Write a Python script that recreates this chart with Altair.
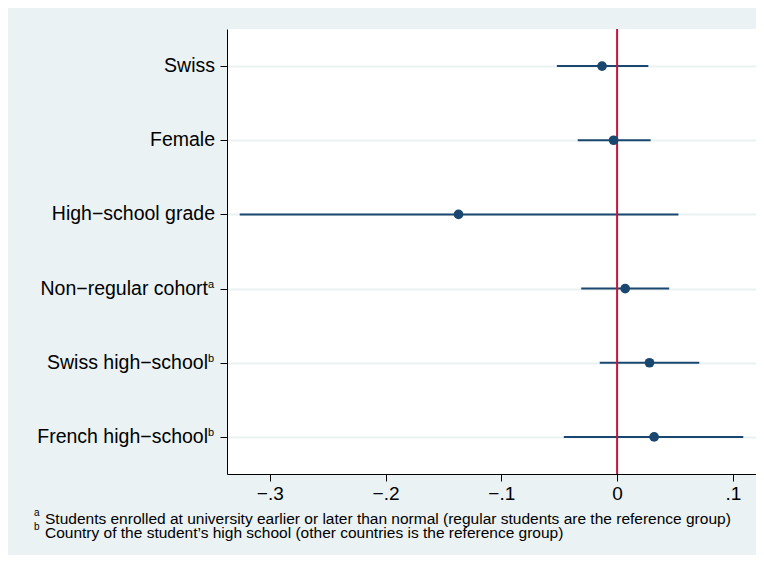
import altair as alt
import pandas as pd

labels = ["Swiss", "Female", "High−school grade", "Non−regular cohort",
          "Swiss high−school", "French high−school"]
label_sup = ["", "", "", "a", "b", "b"]
coef = [-0.013, -0.003, -0.137, 0.007, 0.028, 0.032]
ci_lo = [-0.052, -0.034, -0.326, -0.031, -0.015, -0.046]
ci_hi = [0.027, 0.029, 0.053, 0.045, 0.071, 0.109]
x_ticks = [-0.3, -0.2, -0.1, 0.0, 0.1]
x_domain = [-0.337, 0.120]
note_marks = ["a", "b"]
note_texts = ["Students enrolled at university earlier or later than normal (regular students are the reference group)",
              "Country of the student’s high school (other countries is the reference group)"]

df = pd.DataFrame({"label": labels, "sup": label_sup, "coef": coef, "lo": ci_lo, "hi": ci_hi})
ref = pd.DataFrame({"x": [0.0]})

NAVY = "#1a476f"
RED = "#c8143c"
BG = "#eaf2f3"
FONT = "Liberation Sans"

xscale = alt.Scale(domain=x_domain, nice=False, zero=False)
yscale = alt.Scale(domain=labels, type="point", padding=0.5)

xaxis = alt.Axis(values=x_ticks, title=None, grid=False, domainColor="black", domainWidth=1,
                 tickColor="black", tickSize=7, labelFontSize=19, labelFont=FONT,
                 labelColor="black", labelPadding=3,
                 labelExpr="datum.value == 0 ? '0' : replace(format(datum.value, '.1f'), '0.', '.')")
yaxis = alt.Axis(title=None, grid=True, gridColor=BG, gridWidth=2, domainColor="black",
                 domainWidth=1, tickColor="black", tickSize=7, labels=False)

Y = alt.Y("label:N", scale=yscale, sort=labels, axis=yaxis)

bars = alt.Chart(df).mark_rule(color=NAVY, strokeWidth=2).encode(
    x=alt.X("lo:Q", scale=xscale, axis=xaxis),
    x2="hi:Q",
    y=Y,
)

rule = alt.Chart(ref).mark_rule(color=RED, strokeWidth=2).encode(
    x=alt.X("x:Q", scale=xscale, axis=xaxis)
)

pts = alt.Chart(df).mark_point(filled=True, shape="circle", size=95, color=NAVY, opacity=1).encode(
    x=alt.X("coef:Q", scale=xscale, axis=xaxis),
    y=Y,
)

lab_plain = alt.Chart(df).transform_filter("datum.sup == ''").mark_text(
    align="right", baseline="middle", fontSize=19.5, font=FONT, color="black"
).encode(x=alt.value(-12), y=Y, text="label:N")
lab_main = alt.Chart(df).transform_filter("datum.sup != ''").mark_text(
    align="right", baseline="middle", fontSize=19.5, font=FONT, color="black"
).encode(x=alt.value(-19), y=Y, text="label:N")
lab_sup = alt.Chart(df).transform_filter("datum.sup != ''").mark_text(
    align="right", baseline="alphabetic", fontSize=11, font=FONT, color="black", dy=-1
).encode(x=alt.value(-13), y=Y, text="sup:N")

layers = [bars, rule, pts, lab_plain, lab_main, lab_sup]
note_base = [495, 509]
for m, t, yb in zip(note_marks, note_texts, note_base):
    layers.append(alt.Chart(ref).mark_text(
        text=t, align="left", baseline="alphabetic", fontSize=15.5, font=FONT, color="black"
    ).encode(x=alt.value(-182), y=alt.value(yb)))
    layers.append(alt.Chart(ref).mark_text(
        text=m, align="left", baseline="alphabetic", fontSize=10, font=FONT, color="black"
    ).encode(x=alt.value(-193), y=alt.value(yb - 8)))

chart = alt.layer(*layers).properties(
    width=529,
    height=445,
    background=BG,
    autosize=alt.AutoSizeParams(type="none"),
    padding={"left": 219, "top": 21, "right": 0, "bottom": 81},
).configure_view(fill="white", stroke=None)

chart.save("out.html", embed_options={"renderer": "svg", "actions": False})
